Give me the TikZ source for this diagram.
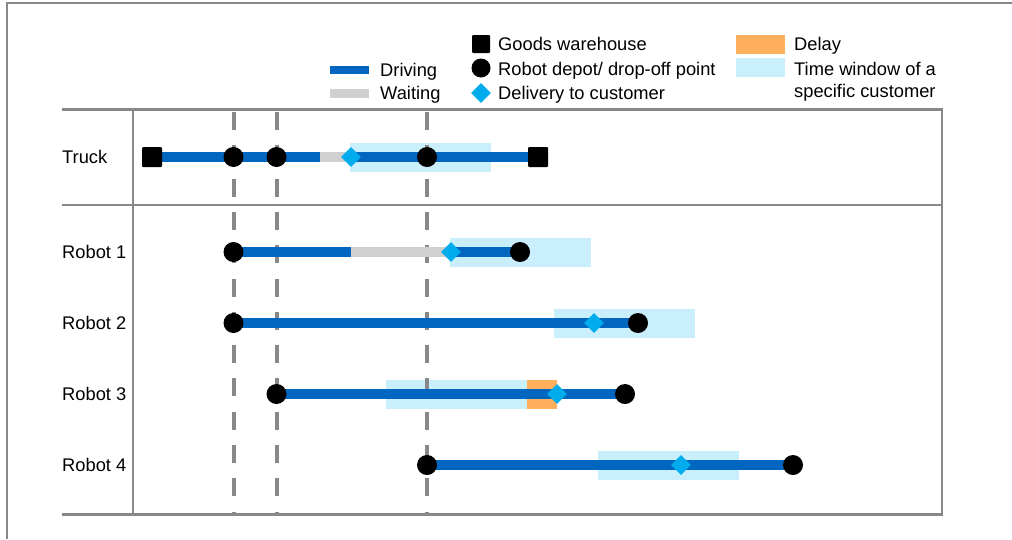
\documentclass[tikz,border=0pt]{standalone}
\usepackage{fontspec}
\setmainfont{Liberation Sans}
\usetikzlibrary{shapes.geometric}
\definecolor{rulegrey}{RGB}{136,136,136}
\definecolor{driveblue}{RGB}{0,102,191}
\definecolor{waitgrey}{RGB}{208,208,208}
\definecolor{deliverblue}{RGB}{0,172,236}
\definecolor{windowblue}{RGB}{201,238,252}
\definecolor{delayorange}{RGB}{255,176,92}
\pgfdeclarelayer{back}
\pgfdeclarelayer{bars}
\pgfsetlayers{back,bars,main}
\begin{document}
\begin{tikzpicture}[x=1pt,y=-1pt,
  thickrule/.style={draw=rulegrey,line width=3pt},
  thinrule/.style={draw=rulegrey,line width=1.7pt},
  guide/.style={draw=rulegrey,line width=4pt,dash pattern=on 18pt off 15.3pt},
  drivebar/.style={draw=driveblue,line width=9.5pt},
  waitbar/.style={draw=waitgrey,line width=9.5pt},
  depot/.style={circle,fill=black,minimum size=20pt,inner sep=0pt},
  warehouse/.style={rectangle,fill=black,minimum size=20pt,inner sep=0pt,rounded corners=1pt},
  delivery/.style={diamond,fill=deliverblue,minimum width=20pt,minimum height=20pt,inner sep=0pt},
  window/.style={rectangle,fill=windowblue,minimum width=141pt,minimum height=29pt,inner sep=0pt},
  delaybox/.style={rectangle,fill=delayorange,minimum width=30pt,minimum height=29pt,inner sep=0pt},
  txt/.style={anchor=base west,inner sep=0pt,font=\fontsize{18.3}{23}\selectfont},
]
\useasboundingbox (0,0) rectangle (1012,539);

% outer frame
\draw[draw=rulegrey,line width=2pt] (7,539) -- (7,2.5) -- (1012,2.5);

% ---------- legend ----------
\coordinate (lgD0) at (330,70);   \coordinate (lgD1) at (369,70);
\coordinate (lgW0) at (330,93.5); \coordinate (lgW1) at (369,93.5);
\draw[draw=driveblue,line width=8.5pt] (lgD0) -- (lgD1);
\draw[draw=waitgrey,line width=8.5pt] (lgW0) -- (lgW1);
\node[txt] (lgDt) at (380,76) {Driving};
\node[txt] (lgWt) at (380,99) {Waiting};

\node[warehouse,minimum size=18pt] (lgS) at (481,44) {};
\node[depot,minimum size=19pt] (lgC) at (481,68) {};
\node[delivery] (lgM) at (481,93) {};
\node[txt] (lgSt) at (498,50) {Goods warehouse};
\node[txt] (lgCt) at (498,75) {Robot depot/ drop-off point};
\node[txt] (lgMt) at (498,99) {Delivery to customer};

\node[delaybox,minimum width=49pt,minimum height=19pt] (lgY) at (760.5,44.5) {};
\node[window,minimum width=49pt,minimum height=19pt] (lgT) at (760.5,67.5) {};
\node[txt] (lgYt) at (794,50) {Delay};
\node[txt] (lgTt) at (794,75) {Time window of a};
\node[txt] (lgTu) at (794,97.5) {specific customer};

% ---------- table frame ----------
\coordinate (tl) at (62,109.5);  \coordinate (tr) at (943,109.5);
\coordinate (bl) at (62,514.5);  \coordinate (br) at (943,514.5);
\coordinate (rsl) at (62,205);   \coordinate (rsr) at (942,205);
\coordinate (cst) at (133,109.5); \coordinate (csb) at (133,514.5);
\coordinate (rvt) at (942,109.5); \coordinate (rvb) at (942,514.5);
\draw[thickrule] (tl) -- (tr);
\draw[thickrule] (bl) -- (br);
\draw[draw=rulegrey,line width=2.2pt] (rvt) -- (rvb);
\draw[thinrule] (rsl) -- (rsr);
\draw[thinrule] (cst) -- (csb);

% row labels
\node[txt] (lTruck) at (62,163.5) {Truck};
\node[txt] (lR1) at (62,258.5) {Robot 1};
\node[txt] (lR2) at (62,329.5) {Robot 2};
\node[txt] (lR3) at (62,400.5) {Robot 3};
\node[txt] (lR4) at (62,471.5) {Robot 4};

% ---------- time windows and delay ----------
\begin{pgfonlayer}{back}
\node[window] (tWin) at (420.5,157) {};
\node[window] (r1Win) at (520.5,252) {};
\node[window] (r2Win) at (624.5,323) {};
\node[window] (r3Win) at (456.5,394) {};
\node[delaybox] (r3Delay) at (542,394) {};
\node[window] (r4Win) at (668.5,465) {};
\end{pgfonlayer}

% ---------- synchronisation guides ----------
\coordinate (g1t) at (233.5,112); \coordinate (g1b) at (233.5,514);
\coordinate (g2t) at (276.5,112); \coordinate (g2b) at (276.5,514);
\coordinate (g3t) at (427,112);   \coordinate (g3b) at (427,514);
\begin{pgfonlayer}{bars}
\draw[guide] (g1t) -- (g1b);
\draw[guide] (g2t) -- (g2b);
\draw[guide] (g3t) -- (g3b);
\end{pgfonlayer}

% ---------- truck ----------
\node[warehouse] (tA) at (152,157) {};
\node[depot] (tB) at (233.5,157) {};
\node[depot] (tC) at (276.5,157) {};
\coordinate (tWait) at (320,157);
\node[delivery] (tD) at (351,157) {};
\node[depot] (tE) at (427,157) {};
\node[warehouse] (tF) at (538,157) {};
\begin{pgfonlayer}{bars}
\draw[drivebar] (tA.center) -- (tWait);
\draw[waitbar] (tWait) -- (tD.center);
\draw[drivebar] (tD.center) -- (tF.center);
\end{pgfonlayer}

% ---------- robot 1 ----------
\node[depot] (r1A) at (233.5,252) {};
\coordinate (r1Wait) at (351,252);
\node[delivery] (r1D) at (451,252) {};
\node[depot] (r1B) at (520,252) {};
\begin{pgfonlayer}{bars}
\draw[drivebar] (r1A.center) -- (r1Wait);
\draw[waitbar] (r1Wait) -- (r1D.center);
\draw[drivebar] (r1D.center) -- (r1B.center);
\end{pgfonlayer}

% ---------- robot 2 ----------
\node[depot] (r2A) at (233.5,323) {};
\node[delivery] (r2D) at (594,323) {};
\node[depot] (r2B) at (638,323) {};
\begin{pgfonlayer}{bars}
\draw[drivebar] (r2A.center) -- (r2B.center);
\end{pgfonlayer}

% ---------- robot 3 ----------
\node[depot] (r3A) at (276.5,394) {};
\node[delivery] (r3D) at (557,394) {};
\node[depot] (r3B) at (625,394) {};
\begin{pgfonlayer}{bars}
\draw[drivebar] (r3A.center) -- (r3B.center);
\end{pgfonlayer}

% ---------- robot 4 ----------
\node[depot] (r4A) at (427,465) {};
\node[delivery] (r4D) at (681,465) {};
\node[depot] (r4B) at (793,465) {};
\begin{pgfonlayer}{bars}
\draw[drivebar] (r4A.center) -- (r4B.center);
\end{pgfonlayer}
\end{tikzpicture}
\end{document}
